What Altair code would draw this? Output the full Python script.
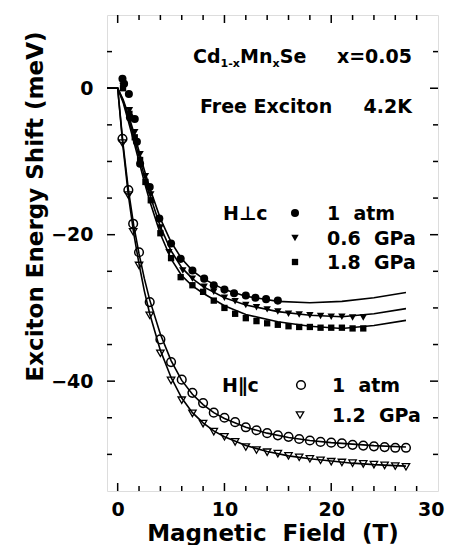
import altair as alt
import pandas as pd

# ---------------- data ----------------
# H perpendicular c, data points
perp_1atm_x = [0.45, 0.6, 1.05, 1.15, 1.6, 1.8, 2.1, 3.0, 3.9, 5.0, 5.9, 7.0, 8.1, 9.0, 10.0, 10.9, 12.0, 12.9, 13.9, 15.0]
perp_1atm_y = [1.3, 0.6, -0.8, -4.0, -4.2, -7.3, -10.3, -13.5, -17.8, -21.2, -23.3, -24.9, -26.0, -26.9, -27.5, -28.0, -28.3, -28.6, -28.8, -29.0]

perp_06_x = [0.5, 1.1, 1.6, 2.1, 2.6, 3.1, 4.0, 4.8, 6.1, 7.0, 8.1, 9.0, 10, 11, 12, 13, 14, 15, 16, 17, 18, 19, 20, 21, 22, 23]
perp_06_y = [0.3, -3.0, -6.0, -9.0, -12.0, -14.5, -19.0, -22.4, -24.9, -26.0, -27.1, -27.8, -28.6, -29.1, -29.6, -29.9, -30.2, -30.5, -30.8, -30.9, -31.0, -31.1, -31.2, -31.2, -31.3, -31.3]

perp_18_x = [0.5, 1.1, 1.6, 2.1, 2.6, 3.1, 4.0, 5.0, 5.9, 7.0, 8.0, 9, 10, 11, 12, 13, 14, 15, 16, 17, 18, 19, 20, 21, 22, 23]
perp_18_y = [0.0, -3.5, -6.7, -9.8, -12.8, -15.3, -19.8, -23.2, -25.8, -26.9, -27.8, -29.0, -30.0, -30.8, -31.4, -31.8, -32.1, -32.3, -32.5, -32.6, -32.6, -32.7, -32.7, -32.7, -32.8, -32.8]

# H parallel c, data points
par_1atm_x = [0.45, 1.0, 1.45, 2.0, 3.0, 4.0, 5.0, 6.0, 7.0, 8.0, 9.0, 10, 11, 12, 13, 14, 15, 16, 17, 18, 19, 20, 21, 22, 23, 24, 25, 26, 27]
par_1atm_y = [-6.9, -13.9, -18.5, -22.4, -29.2, -34.3, -37.4, -39.8, -41.6, -43.0, -44.3, -45.0, -45.6, -46.3, -46.7, -47.1, -47.4, -47.6, -47.9, -48.1, -48.3, -48.4, -48.5, -48.7, -48.8, -48.9, -49.0, -49.1, -49.1]

par_12_x = [0.45, 1.0, 1.45, 2.0, 3.0, 4.0, 5.0, 6.0, 7.0, 8.0, 9.0, 10, 11, 12, 13, 14, 15, 16, 17, 18, 19, 20, 21, 22, 23, 24, 25, 26, 27]
par_12_y = [-7.5, -14.6, -19.6, -24.2, -31.0, -36.2, -39.9, -42.6, -44.4, -45.8, -46.9, -47.6, -48.3, -49.0, -49.4, -49.7, -49.9, -50.2, -50.4, -50.6, -50.8, -51.0, -51.1, -51.2, -51.3, -51.4, -51.5, -51.6, -51.7]

# fitted curves (traced)
cperp_x = [-1, 0, 0.5, 1, 1.5, 2, 2.5, 3, 4, 5, 6, 7, 8, 10, 12, 15, 18, 21, 24, 27]
cperp_1atm = [0, 0, -1.5, -3.6, -6.0, -8.6, -11.2, -13.6, -17.8, -21.0, -23.3, -24.9, -26.0, -27.5, -28.4, -29.1, -29.3, -29.1, -28.6, -27.9]
cperp_06 = [0, 0, -1.7, -4.0, -6.6, -9.3, -12.0, -14.5, -18.9, -22.2, -24.5, -26.0, -27.1, -28.6, -29.6, -30.5, -31.0, -31.2, -30.8, -30.1]
cperp_18 = [0, 0, -1.9, -4.5, -7.2, -10.0, -12.8, -15.4, -19.9, -23.3, -25.6, -27.0, -28.0, -29.7, -30.9, -31.9, -32.5, -32.8, -32.4, -31.7]

cpar_x = [-1, 0, 0.5, 1, 1.5, 2, 2.5, 3, 4, 5, 6, 7, 8, 9, 10, 12, 14, 16, 18, 20, 22, 24, 27]
cpar_1atm = [0, 0, -7.6, -13.8, -18.7, -22.6, -26.0, -28.9, -33.6, -37.2, -39.9, -41.8, -43.2, -44.3, -45.1, -46.3, -47.1, -47.7, -48.1, -48.4, -48.6, -48.8, -49.0]
cpar_12 = [0, 0, -8.0, -14.6, -19.8, -24.0, -27.7, -30.8, -35.8, -39.5, -42.3, -44.3, -45.7, -46.8, -47.6, -48.8, -49.6, -50.2, -50.6, -50.9, -51.2, -51.4, -51.6]

# axis ticks
x_labels = [0, 10, 20, 30]
x_major = [0, 10, 20]
x_minor = [2, 4, 6, 8, 12, 14, 16, 18, 22, 24, 26, 28]
y_labels = [0, -20, -40]
y_major = [0, -20, -40]
y_minor = [5, -5, -10, -15, -25, -30, -35, -45, -50]

# ---------------- chart ----------------
W, H = 331, 476
FONT = "DejaVu Sans"
xs = alt.Scale(domain=[-1, 30], nice=False, zero=False)
ys = alt.Scale(domain=[-55, 10], nice=False, zero=False)

xaxis = alt.Axis(values=x_labels, title="Magnetic\u00a0 Field\u00a0 (T)",
                 labelFont=FONT, labelFontSize=19, labelFontWeight="bold", labelColor="black",
                 titleFont=FONT, titleFontSize=23, titleFontWeight="bold", titleColor="black",
                 ticks=False, tickSize=0, domain=False, grid=False, labelPadding=9,
                 labelFlush=True, labelFlushOffset=6, titleY=49, titleBaseline="alphabetic")
yaxis = alt.Axis(values=y_labels, title="Exciton Energy Shift (meV)",
                 labelFont=FONT, labelFontSize=19, labelFontWeight="bold", labelColor="black",
                 titleFont=FONT, titleFontSize=23, titleFontWeight="bold", titleColor="black",
                 ticks=False, tickSize=0, domain=False, grid=False, labelPadding=14,
                 labelFlush=False, titleX=-65, titleY=191, titleBaseline="alphabetic")


def X(field):
    return alt.X(field, scale=xs, axis=xaxis)


def Y(field):
    return alt.Y(field, scale=ys, axis=yaxis)


def pts(xv, yv):
    return pd.DataFrame({"x": xv, "y": yv})


curves = pd.concat([
    pd.DataFrame({"x": cperp_x, "y": cperp_1atm, "s": "perp 1 atm"}),
    pd.DataFrame({"x": cperp_x, "y": cperp_06, "s": "perp 0.6 GPa"}),
    pd.DataFrame({"x": cperp_x, "y": cperp_18, "s": "perp 1.8 GPa"}),
    pd.DataFrame({"x": cpar_x, "y": cpar_1atm, "s": "par 1 atm"}),
    pd.DataFrame({"x": cpar_x, "y": cpar_12, "s": "par 1.2 GPa"}),
])

lines = alt.Chart(curves).mark_line(color="black", strokeWidth=1.6).encode(
    x=X("x:Q"), y=Y("y:Q"), detail="s:N",
)


def point_layer(df, shape, filled, size, sw=1.4):
    return alt.Chart(df).mark_point(shape=shape, filled=filled, color="black", size=size,
                                    strokeWidth=sw, opacity=1).encode(x=X("x:Q"), y=Y("y:Q"))


layers = [lines,
          point_layer(pts(perp_1atm_x, perp_1atm_y), "circle", True, 65),
          point_layer(pts(perp_06_x, perp_06_y), "triangle-down", True, 55),
          point_layer(pts(perp_18_x, perp_18_y), "square", True, 40),
          point_layer(pts(par_1atm_x, par_1atm_y), "circle", False, 75, 1.5),
          point_layer(pts(par_12_x, par_12_y), "triangle-down", False, 55, 1.3)]


def xtick(vals, y0, y1):
    return alt.Chart(pd.DataFrame({"x": vals})).mark_rule(color="black", strokeWidth=1.5).encode(
        x=X("x:Q"), y=alt.value(y0), y2=alt.value(y1))


def ytick(vals, x0, x1):
    return alt.Chart(pd.DataFrame({"y": vals})).mark_rule(color="black", strokeWidth=1.5).encode(
        y=Y("y:Q"), x=alt.value(x0), x2=alt.value(x1))


layers += [xtick(x_minor, H, H - 5), xtick(x_major, H, H - 8),
           xtick(x_minor, 0, 5), xtick(x_major, 0, 8),
           ytick(y_minor, 0, 5), ytick(y_major, 0, 8),
           ytick(y_minor, W, W - 5), ytick(y_major, W, W - 8)]


def txt(s, x, y, size=19, align="left"):
    return alt.Chart(pd.DataFrame({"t": [s]})).mark_text(
        font=FONT, fontSize=size, fontWeight="bold", color="black", align=align,
        baseline="alphabetic").encode(x=alt.value(x), y=alt.value(y), text="t:N")


def marker(shape, filled, x, y, size, sw=1.4):
    return alt.Chart(pd.DataFrame({"t": [0]})).mark_point(
        shape=shape, filled=filled, color="black", size=size, strokeWidth=sw, opacity=1).encode(
        x=alt.value(x), y=alt.value(y))


layers += [
    txt("Cd", 86, 48), txt("1-x", 113.6, 52, 11), txt("Mn", 133.1, 48), txt("x", 165.5, 52, 11),
    txt("Se", 172.8, 48), txt("x=0.05", 305, 48, align="right"),
    txt("Free Exciton", 93, 98), txt("4.2K", 305, 98, align="right"),
    txt("H\u22a5c", 116, 205),
    marker("circle", True, 188, 198, 65), txt("1\u00a0 atm", 220, 205),
    marker("triangle-down", True, 188, 223, 55), txt("0.6\u00a0 GPa", 220, 230),
    marker("square", True, 188, 247, 40), txt("1.8\u00a0 GPa", 220, 254),
    txt("H\u2225c", 115, 377),
    marker("circle", False, 194, 370, 75, 1.5), txt("1\u00a0 atm", 225, 377),
    marker("triangle-down", False, 193, 400, 55, 1.3), txt("1.2\u00a0 GPa", 225, 407),
]

chart = alt.layer(*layers).properties(
    width=W, height=H,
    padding={"left": 99, "top": 7, "right": 7, "bottom": 54},
    autosize=alt.AutoSizeParams(type="none"),
).configure_view(stroke="black", strokeWidth=2).configure(background="white")

chart.save("out.html", embed_options={"renderer": "svg", "actions": False})
